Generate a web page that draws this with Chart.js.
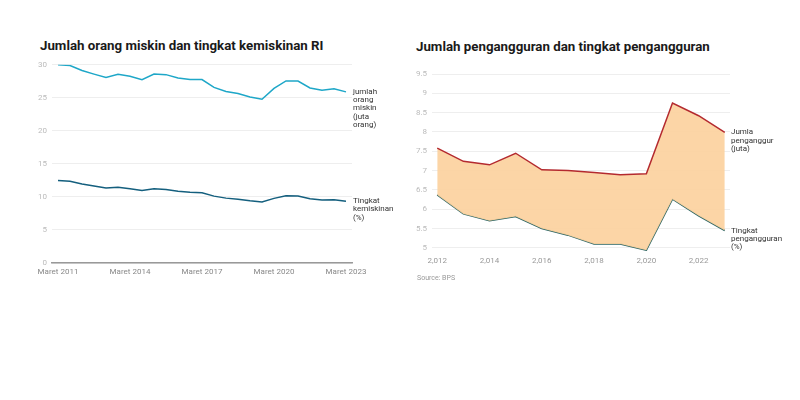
<!DOCTYPE html>
<html>
<head>
<meta charset="utf-8">
<script src="https://cdn.jsdelivr.net/npm/chart.js@4"></script>
<style>
  body { margin: 0; background: #fff; font-family: Roboto, sans-serif; }
  .wrap { position: relative; width: 800px; height: 400px; }
  .title { position: absolute; font-weight: bold; font-size: 13.3px; color: #1a1a1a; white-space: nowrap; }
  .src { position: absolute; font-size: 7px; color: #999; }
  canvas { position: absolute; }
</style>
</head>
<body>
<div class="wrap">
  <div class="title" style="left:40px; top:38px;">Jumlah orang miskin dan tingkat kemiskinan RI</div>
  <div class="title" style="left:416px; top:39px;">Jumlah pengangguran dan tingkat pengangguran</div>
  <div style="position:absolute; left:30px; top:55px; width:370px; height:230px;"><canvas id="povChart"></canvas></div>
  <div style="position:absolute; left:400px; top:60px; width:400px; height:215px;"><canvas id="unempChart"></canvas></div>
  <div class="src" style="left:417px; top:274px;">Source: BPS</div>
</div>
<script>
// poverty, March and September surveys
const periods = [
  'Maret 2011', 'September 2011', 'Maret 2012', 'September 2012', 'Maret 2013', 'September 2013',
  'Maret 2014', 'September 2014', 'Maret 2015', 'September 2015', 'Maret 2016', 'September 2016',
  'Maret 2017', 'September 2017', 'Maret 2018', 'September 2018', 'Maret 2019', 'September 2019',
  'Maret 2020', 'September 2020', 'Maret 2021', 'September 2021', 'Maret 2022', 'September 2022',
  'Maret 2023'
];
const poorPeople = [30.02, 29.89, 29.13, 28.59, 28.07, 28.55, 28.28, 27.73, 28.59, 28.51, 28.01, 27.76,
  27.77, 26.58, 25.95, 25.67, 25.14, 24.79, 26.42, 27.55, 27.54, 26.50, 26.16, 26.36, 25.90];
const povertyRate = [12.49, 12.36, 11.96, 11.66, 11.37, 11.47, 11.25, 10.96, 11.22, 11.13, 10.86, 10.70,
  10.64, 10.12, 9.82, 9.66, 9.41, 9.22, 9.78, 10.19, 10.14, 9.71, 9.54, 9.57, 9.36];

// unemployment, yearly
const years = [2012, 2013, 2014, 2015, 2016, 2017, 2018, 2019, 2020, 2021, 2022, 2023];
const unemployed = [7.58, 7.24, 7.15, 7.45, 7.02, 7.00, 6.95, 6.89, 6.92, 8.75, 8.42, 7.99];
const unempRate = [6.37, 5.88, 5.70, 5.81, 5.50, 5.33, 5.10, 5.10, 4.94, 6.26, 5.83, 5.45];
const yearTicks = [2012, 2014, 2016, 2018, 2020, 2022];
const unempTicks = [5, 5.5, 6, 6.5, 7, 7.5, 8, 8.5, 9, 9.5];

const povLabels = [['jumlah', 'orang', 'miskin', '(juta', 'orang)'], ['Tingkat', 'kemiskinan', '(%)']];
const unempLabels = [['Jumla', 'penganggur', '(juta)'], ['Tingkat', 'pengangguran', '(%)']];

// text next to the last point of each line
function endLabels(lines) {
  return {
    id: 'endLabels',
    afterDatasetsDraw(chart) {
      const ctx = chart.ctx;
      ctx.save();
      ctx.font = '8px Roboto';
      ctx.fillStyle = '#333';
      ctx.textBaseline = 'middle';
      ctx.textAlign = 'left';
      chart.data.datasets.forEach((ds, i) => {
        const pts = chart.getDatasetMeta(i).data;
        const last = pts[pts.length - 1];
        lines[i].forEach((t, j) => {
          ctx.fillText(t, chart.chartArea.right + 1, last.y + j * 8.3);
        });
      });
      ctx.restore();
    }
  };
}

Chart.defaults.font.family = 'Roboto';
Chart.defaults.animation = false;

new Chart(document.getElementById('povChart'), {
  type: 'line',
  data: {
    labels: periods,
    datasets: [{
      data: poorPeople,
      borderColor: '#1ea7c8',
      borderWidth: 1.5,
      pointRadius: 0,
      fill: false
    }, {
      data: povertyRate,
      borderColor: '#145f7e',
      borderWidth: 1.5,
      pointRadius: 0,
      fill: false
    }]
  },
  options: {
    responsive: true,
    maintainAspectRatio: false,
    layout: { padding: { top: 8, right: 48, left: 0, bottom: 0 } },
    plugins: { legend: { display: false }, tooltip: { enabled: false } },
    scales: {
      x: {
        offset: true,
        grid: { display: false, drawTicks: false },
        border: { display: true, color: '#999', width: 1.5 },
        afterFit(s) { s.height = 22; },
        ticks: {
          autoSkip: false,
          maxRotation: 0,
          padding: 4,
          color: '#888',
          font: { size: 8 },
          callback(v, i) { return i % 6 === 0 ? periods[i] : null; }
        }
      },
      y: {
        min: 0,
        max: 30,
        afterFit(s) { s.width = 22; },
        grid: { color: '#eee', drawTicks: false },
        border: { display: false },
        ticks: { stepSize: 5, padding: 5, color: '#bbb', font: { size: 8 } }
      }
    }
  },
  plugins: [endLabels(povLabels)]
});

new Chart(document.getElementById('unempChart'), {
  type: 'line',
  data: {
    datasets: [{
      data: years.map((y, i) => ({ x: y, y: unemployed[i] })),
      borderColor: '#b42a2f',
      borderWidth: 1.5,
      pointRadius: 0,
      backgroundColor: 'rgba(252, 209, 158, 0.92)',
      fill: '+1'
    }, {
      data: years.map((y, i) => ({ x: y, y: unempRate[i] })),
      borderColor: '#2a6462',
      borderWidth: 1.5,
      pointRadius: 0,
      fill: false
    }]
  },
  options: {
    responsive: true,
    maintainAspectRatio: false,
    layout: { padding: { top: 14, right: 70, left: 0, bottom: 0 } },
    plugins: { legend: { display: false }, tooltip: { enabled: false } },
    scales: {
      x: {
        type: 'linear',
        min: 2011.8,
        max: 2023.2,
        afterBuildTicks(s) { s.ticks = yearTicks.map(v => ({ value: v })); },
        afterFit(s) { s.height = 24; },
        grid: { display: false, drawTicks: false },
        border: { display: false },
        ticks: {
          padding: 5,
          color: '#999',
          font: { size: 8 },
          callback(v) { return v.toLocaleString('en-US'); }
        }
      },
      y: {
        min: 4.92,
        max: 9.5,
        afterBuildTicks(s) { s.ticks = unempTicks.map(v => ({ value: v })); },
        afterFit(s) { s.width = 32; },
        grid: { color: '#eee', drawTicks: false },
        border: { display: false },
        ticks: { padding: 5, color: '#bbb', font: { size: 8 }, callback(v) { return String(v); } }
      }
    }
  },
  plugins: [endLabels(unempLabels)]
});
</script>
</body>
</html>
